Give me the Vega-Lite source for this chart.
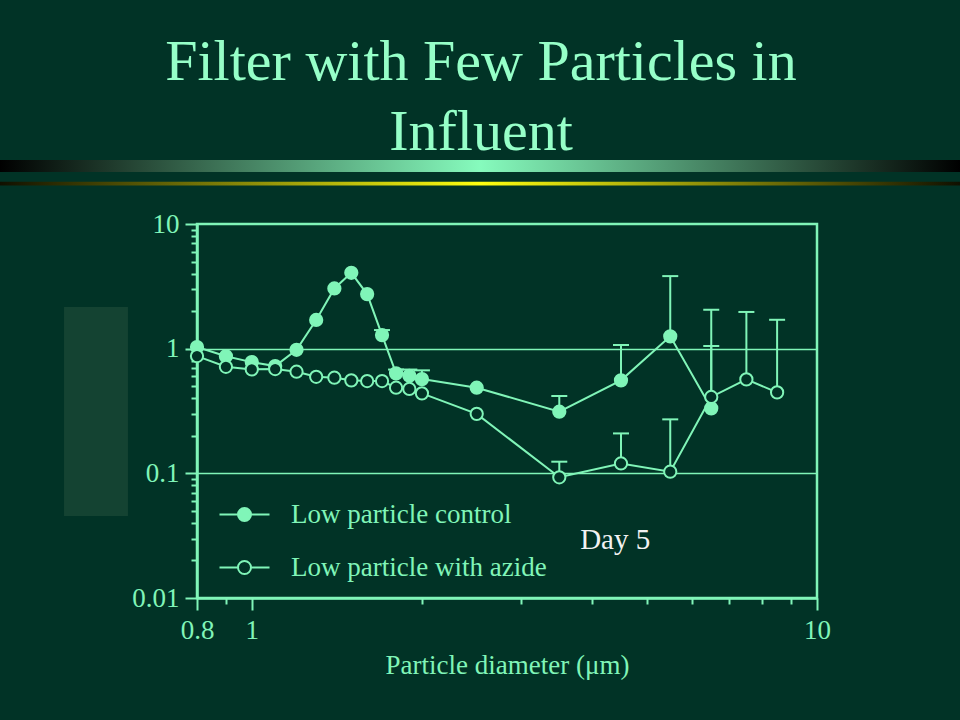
{
  "$schema": "https://vega.github.io/schema/vega-lite/v6.json",
  "width": 620,
  "height": 374,
  "autosize": {"type": "none"},
  "padding": {"left": 197, "top": 224, "right": 143, "bottom": 122},
  "background": "#013326",
  "title": {
    "text": ["Filter with Few Particles in", "Influent"],
    "font": "Liberation Serif",
    "fontSize": 58,
    "fontWeight": "normal",
    "color": "#96ffc8",
    "lineHeight": 70,
    "anchor": "middle",
    "frame": "group",
    "baseline": "bottom",
    "dx": -26,
    "dy": 60,
    "offset": 0
  },
  "config": {
    "view": {"stroke": "#80f5b8", "strokeWidth": 2.5},
    "axis": {
      "labelFont": "Liberation Serif",
      "labelFontSize": 27,
      "labelColor": "#80f5b8",
      "titleFont": "Liberation Serif",
      "titleFontSize": 27,
      "titleFontWeight": "normal",
      "titleColor": "#80f5b8",
      "domainColor": "#80f5b8",
      "domainWidth": 2.5,
      "tickColor": "#80f5b8",
      "tickWidth": 2,
      "labelOverlap": false,
      "labelBound": false,
      "labelFlush": false
    }
  },
  "datasets": {
    "decor": [
      {"part": "green", "x1": 0, "x2": 1, "y1": 0.2222, "y2": 0.2389},
      {"part": "yellow", "x1": 0, "x2": 1, "y1": 0.2525, "y2": 0.2575},
      {"part": "box", "x1": 0.0667, "x2": 0.1333, "y1": 0.4264, "y2": 0.7167}
    ],
    "obs": [
      {"series": "Low particle control", "d": 0.8, "v": 1.03, "hi": null},
      {"series": "Low particle control", "d": 0.9, "v": 0.87, "hi": null},
      {"series": "Low particle control", "d": 1.0, "v": 0.78, "hi": null},
      {"series": "Low particle control", "d": 1.1, "v": 0.725, "hi": null},
      {"series": "Low particle control", "d": 1.2, "v": 0.98, "hi": null},
      {"series": "Low particle control", "d": 1.3, "v": 1.7, "hi": null},
      {"series": "Low particle control", "d": 1.4, "v": 3.04, "hi": null},
      {"series": "Low particle control", "d": 1.5, "v": 4.06, "hi": null},
      {"series": "Low particle control", "d": 1.6, "v": 2.74, "hi": null},
      {"series": "Low particle control", "d": 1.7, "v": 1.285, "hi": 1.41},
      {"series": "Low particle control", "d": 1.8, "v": 0.634, "hi": 0.68},
      {"series": "Low particle control", "d": 1.9, "v": 0.606, "hi": 0.68},
      {"series": "Low particle control", "d": 2.0, "v": 0.57, "hi": 0.67},
      {"series": "Low particle control", "d": 2.5, "v": 0.486, "hi": null},
      {"series": "Low particle control", "d": 3.5, "v": 0.312, "hi": 0.417},
      {"series": "Low particle control", "d": 4.5, "v": 0.557, "hi": 1.07},
      {"series": "Low particle control", "d": 5.5, "v": 1.255, "hi": 3.82},
      {"series": "Low particle control", "d": 6.5, "v": 0.332, "hi": 1.05},
      {"series": "Low particle with azide", "d": 0.8, "v": 0.872, "hi": null},
      {"series": "Low particle with azide", "d": 0.9, "v": 0.716, "hi": null},
      {"series": "Low particle with azide", "d": 1.0, "v": 0.682, "hi": null},
      {"series": "Low particle with azide", "d": 1.1, "v": 0.686, "hi": null},
      {"series": "Low particle with azide", "d": 1.2, "v": 0.653, "hi": null},
      {"series": "Low particle with azide", "d": 1.3, "v": 0.595, "hi": null},
      {"series": "Low particle with azide", "d": 1.4, "v": 0.585, "hi": null},
      {"series": "Low particle with azide", "d": 1.5, "v": 0.557, "hi": null},
      {"series": "Low particle with azide", "d": 1.6, "v": 0.55, "hi": null},
      {"series": "Low particle with azide", "d": 1.7, "v": 0.55, "hi": null},
      {"series": "Low particle with azide", "d": 1.8, "v": 0.486, "hi": null},
      {"series": "Low particle with azide", "d": 1.9, "v": 0.475, "hi": null},
      {"series": "Low particle with azide", "d": 2.0, "v": 0.438, "hi": null},
      {"series": "Low particle with azide", "d": 2.5, "v": 0.3, "hi": null},
      {"series": "Low particle with azide", "d": 3.5, "v": 0.093, "hi": 0.124},
      {"series": "Low particle with azide", "d": 4.5, "v": 0.12, "hi": 0.209},
      {"series": "Low particle with azide", "d": 5.5, "v": 0.103, "hi": 0.271},
      {"series": "Low particle with azide", "d": 6.5, "v": 0.41, "hi": 2.05},
      {"series": "Low particle with azide", "d": 7.5, "v": 0.567, "hi": 1.97},
      {"series": "Low particle with azide", "d": 8.5, "v": 0.446, "hi": 1.705}
    ],
    "note": [{"label": "Day 5", "d": 3.81, "v": 0.0247}]
  },
  "layer": [
    {
      "data": {"name": "decor"},
      "transform": [{"filter": "datum.part == 'green'"}],
      "mark": {"type": "rect", "fill": {"gradient": "linear", "x1": 0, "x2": 1, "y1": 0, "y2": 0, "stops": [{"offset": 0, "color": "#000000"}, {"offset": 0.5, "color": "#86fbbd"}, {"offset": 1, "color": "#000000"}]}},
      "encoding": {
        "x": {"field": "x1", "type": "quantitative", "scale": {"domain": [0.20521, 0.85104], "nice": false, "zero": false}, "axis": null},
        "x2": {"field": "x2"},
        "y": {"field": "y1", "type": "quantitative", "scale": {"domain": [0.31111, 0.83056], "nice": false, "zero": false, "reverse": true}, "axis": null},
        "y2": {"field": "y2"}
      }
    },
    {
      "data": {"name": "decor"},
      "transform": [{"filter": "datum.part == 'yellow'"}],
      "mark": {"type": "rect", "fill": {"gradient": "linear", "x1": 0, "x2": 1, "y1": 0, "y2": 0, "stops": [{"offset": 0, "color": "#101000"}, {"offset": 0.5, "color": "#ffff10"}, {"offset": 1, "color": "#101000"}]}},
      "encoding": {
        "x": {"field": "x1", "type": "quantitative", "scale": {"domain": [0.20521, 0.85104], "nice": false, "zero": false}, "axis": null},
        "x2": {"field": "x2"},
        "y": {"field": "y1", "type": "quantitative", "scale": {"domain": [0.31111, 0.83056], "nice": false, "zero": false, "reverse": true}, "axis": null},
        "y2": {"field": "y2"}
      }
    },
    {
      "data": {"name": "decor"},
      "transform": [{"filter": "datum.part == 'box'"}],
      "mark": {"type": "rect", "fill": "#144332"},
      "encoding": {
        "x": {"field": "x1", "type": "quantitative", "scale": {"domain": [0.20521, 0.85104], "nice": false, "zero": false}, "axis": null},
        "x2": {"field": "x2"},
        "y": {"field": "y1", "type": "quantitative", "scale": {"domain": [0.31111, 0.83056], "nice": false, "zero": false, "reverse": true}, "axis": null},
        "y2": {"field": "y2"}
      }
    },
    {
      "encoding": {
        "x": {
          "field": "d", "type": "quantitative",
          "scale": {"type": "log", "domain": [0.8, 10], "nice": false},
          "axis": {
            "orient": "bottom",
            "title": "Particle diameter (μm)",
            "values": [0.8, 0.9, 1, 2, 3, 4, 5, 6, 7, 8, 9, 10],
            "labelExpr": "(datum.value == 0.8 || datum.value == 1 || datum.value == 10) ? '' + datum.value : ''",
            "tickSize": {"condition": {"test": "datum.value == 0.8 || datum.value == 1 || datum.value == 10", "value": 12}, "value": 6},
            "labelPadding": 7,
            "titlePadding": 9,
            "grid": false
          }
        },
        "y": {
          "field": "v", "type": "quantitative",
          "scale": {"type": "log", "domain": [0.01, 10], "nice": false},
          "axis": {
            "orient": "left",
            "title": null,
            "values": [0.01, 0.02, 0.03, 0.04, 0.05, 0.06, 0.07, 0.08, 0.09, 0.1, 0.2, 0.3, 0.4, 0.5, 0.6, 0.7, 0.8, 0.9, 1, 2, 3, 4, 5, 6, 7, 8, 9, 10],
            "labelExpr": "(datum.value == 0.01 || datum.value == 0.1 || datum.value == 1 || datum.value == 10) ? '' + datum.value : ''",
            "tickSize": {"condition": {"test": "datum.value == 0.01 || datum.value == 0.1 || datum.value == 1 || datum.value == 10", "value": 12}, "value": 6},
            "labelPadding": 6,
            "grid": true,
            "gridColor": "#80f5b8",
            "gridWidth": 1.5,
            "gridOpacity": {"condition": {"test": "datum.value == 0.1 || datum.value == 1", "value": 1}, "value": 0}
          }
        }
      },
      "layer": [
        {
          "data": {"name": "obs"},
          "transform": [{"filter": "datum.hi != null"}],
          "mark": {"type": "rule", "color": "#80f5b8", "strokeWidth": 2},
          "encoding": {"y2": {"field": "hi"}}
        },
        {
          "data": {"name": "obs"},
          "transform": [{"filter": "datum.hi != null"}],
          "mark": {"type": "tick", "orient": "horizontal", "color": "#80f5b8", "size": 16, "thickness": 2, "opacity": 1},
          "encoding": {"y": {"field": "hi", "type": "quantitative"}}
        },
        {
          "data": {"name": "obs"},
          "mark": {"type": "line", "color": "#80f5b8", "strokeWidth": 2},
          "encoding": {"detail": {"field": "series"}, "order": {"field": "d"}}
        },
        {
          "data": {"name": "obs"},
          "mark": {"type": "point", "shape": "circle", "filled": true, "stroke": "#80f5b8", "strokeWidth": 2, "size": 150, "opacity": 1},
          "encoding": {
            "fill": {
              "field": "series", "type": "nominal",
              "scale": {"domain": ["Low particle control", "Low particle with azide"], "range": ["#80f5b8", "#013326"]},
              "legend": {
                "orient": "none",
                "legendX": 34,
                "legendY": 277,
                "title": null,
                "padding": 0,
                "symbolType": "M-2.5,0H-0.65M0.65,0H2.5M-0.65,0A0.65,0.65 0 1,1 0.65,0A0.65,0.65 0 1,1 -0.65,0Z",
                "symbolSize": 400,
                "symbolStrokeColor": "#80f5b8",
                "symbolStrokeWidth": 2,
                "symbolOpacity": 1,
                "labelFont": "Liberation Serif",
                "labelFontSize": 27,
                "labelColor": "#80f5b8",
                "labelOffset": 33,
                "labelLimit": 400,
                "rowPadding": 25
              }
            }
          }
        },
        {
          "data": {"name": "note"},
          "mark": {"type": "text", "align": "left", "baseline": "alphabetic", "font": "Liberation Serif", "fontSize": 29, "color": "#f2f2f2"},
          "encoding": {"text": {"field": "label"}}
        }
      ]
    }
  ],
  "resolve": {"scale": {"x": "independent", "y": "independent"}}
}
